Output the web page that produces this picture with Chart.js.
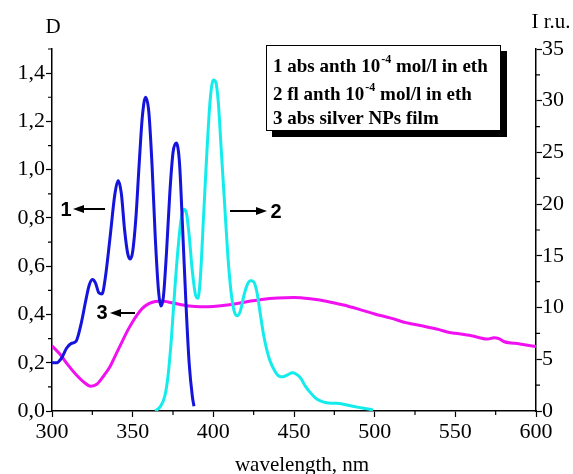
<!DOCTYPE html>
<html>
<head>
<meta charset="utf-8">
<script src="https://cdn.jsdelivr.net/npm/chart.js@4.4.0/dist/chart.umd.min.js"></script>
<style>
  html, body { margin: 0; padding: 0; background: #fff; }
</style>
</head>
<body>
<canvas id="chart" width="573" height="474"></canvas>
<script>
// curve 1: absorption of anthracene (left axis, D)
const absWave = [300, 303, 306, 309, 312, 315, 318, 321, 323, 325, 327, 329, 331, 333, 336, 339, 341, 343, 345, 347, 348.5, 350, 352, 354, 356, 358, 360, 362, 364, 366, 367.5, 369, 371, 373, 375, 377, 379, 381, 383, 385, 387, 388];
const absD = [0.20, 0.20, 0.22, 0.26, 0.28, 0.29, 0.36, 0.46, 0.52, 0.545, 0.53, 0.49, 0.485, 0.55, 0.72, 0.90, 0.955, 0.90, 0.75, 0.65, 0.63, 0.66, 0.80, 1.02, 1.22, 1.30, 1.24, 1.02, 0.72, 0.50, 0.435, 0.47, 0.66, 0.90, 1.07, 1.11, 1.03, 0.75, 0.45, 0.20, 0.06, 0.02];

// curve 2: fluorescence of anthracene (right axis, I r.u.)
const flWave = [364, 367, 370, 372, 374, 376, 378, 380, 382, 383.5, 385, 387, 389, 390.5, 392, 394, 396, 398, 400, 401.5, 403, 405, 407, 409, 411, 413, 415, 417, 419, 421, 423, 425, 427, 429, 431, 433, 435, 438, 441, 443, 446, 449, 451, 454, 457, 460, 463, 466, 470, 475, 480, 485, 490, 495, 499];
const flI = [0, 0.4, 1.5, 3.5, 7, 11.5, 15.5, 18.5, 19.5, 19.0, 17, 13.5, 11.2, 10.9, 13, 19, 25, 30, 32, 31.8, 30, 25, 20, 15, 11.5, 9.6, 9.2, 9.8, 11.2, 12.2, 12.6, 12.5, 11.5, 9.5, 7.5, 6, 4.9, 3.9, 3.35, 3.3, 3.5, 3.7, 3.6, 3.2, 2.4, 1.8, 1.3, 1.0, 0.8, 0.75, 0.68, 0.5, 0.35, 0.22, 0.1];

// curve 3: absorption of silver NPs film (left axis, D)
const agWave = [300, 305, 310, 315, 320, 324, 328, 332, 336, 340, 344, 347, 350, 353, 356, 360, 364, 368, 372, 378, 385, 392, 400, 410, 420, 430, 440, 450, 460, 470, 480, 490, 500, 510, 520, 530, 540, 545, 550, 560, 570, 574, 577, 580, 590, 600];
const agD = [0.27, 0.235, 0.19, 0.15, 0.118, 0.103, 0.112, 0.145, 0.184, 0.24, 0.295, 0.335, 0.37, 0.40, 0.425, 0.445, 0.454, 0.456, 0.452, 0.443, 0.435, 0.432, 0.433, 0.44, 0.452, 0.462, 0.468, 0.47, 0.465, 0.455, 0.44, 0.422, 0.402, 0.385, 0.365, 0.352, 0.337, 0.327, 0.322, 0.312, 0.298, 0.304, 0.30, 0.288, 0.278, 0.267];

const xTicks = [300, 350, 400, 450, 500, 550, 600];
const xMinor = [325, 375, 425, 475, 525, 575];
const dTicks = [0, 0.2, 0.4, 0.6, 0.8, 1.0, 1.2, 1.4];
const dMinor = [0.1, 0.3, 0.5, 0.7, 0.9, 1.1, 1.3, 1.5];
const iTicks = [0, 5, 10, 15, 20, 25, 30, 35];
const iMinor = [2.5, 7.5, 12.5, 17.5, 22.5, 27.5, 32.5];

const legendLines = [
  ["1 abs anth 10", "-4", " mol/l in eth"],
  ["2 fl anth 10", "-4", " mol/l in eth"],
  ["3 abs silver NPs film"]
];

const serif = '"Liberation Serif", "Times New Roman", serif';
const sans = '"Liberation Sans", Arial, sans-serif';

function pts(xs, ys) {
  return xs.map((x, i) => ({ x: x, y: ys[i] }));
}

function arrow(c, x1, y, x2) {
  // line from x1 to x2 with head at x2
  const dir = x2 > x1 ? 1 : -1;
  c.beginPath();
  c.moveTo(x1, y);
  c.lineTo(x2 - dir * 6, y);
  c.lineWidth = 2;
  c.strokeStyle = "#000";
  c.stroke();
  c.beginPath();
  c.moveTo(x2, y);
  c.lineTo(x2 - dir * 11, y - 4);
  c.lineTo(x2 - dir * 11, y + 4);
  c.closePath();
  c.fillStyle = "#000";
  c.fill();
}

const decor = {
  id: "decor",
  afterDraw(chart) {
    const c = chart.ctx;
    const xs = chart.scales.x, yl = chart.scales.y, yr = chart.scales.y2;
    c.save();
    // minor ticks
    c.strokeStyle = "#000";
    c.lineWidth = 1.2;
    c.beginPath();
    xMinor.forEach(v => {
      const p = xs.getPixelForValue(v);
      c.moveTo(p, xs.top); c.lineTo(p, xs.top + 4);
    });
    dMinor.forEach(v => {
      const p = yl.getPixelForValue(v);
      c.moveTo(yl.right, p); c.lineTo(yl.right - 4, p);
    });
    iMinor.forEach(v => {
      const p = yr.getPixelForValue(v);
      c.moveTo(yr.left, p); c.lineTo(yr.left + 4, p);
    });
    c.stroke();

    // axis titles
    c.fillStyle = "#000";
    c.font = "21px " + serif;
    c.textAlign = "center";
    c.textBaseline = "alphabetic";
    c.fillText("D", 53, 33);
    c.fillText("I r.u.", 551, 28);
    c.fillText("wavelength, nm", 302, 471);

    // legend box with shadow
    c.fillStyle = "#000";
    c.fillRect(272, 51, 235, 86);
    c.fillStyle = "#fff";
    c.fillRect(266.5, 45.5, 234, 85);
    c.lineWidth = 1;
    c.strokeRect(266.5, 45.5, 234, 85);

    const base = [72, 100, 124];
    c.textAlign = "left";
    c.fillStyle = "#000";
    legendLines.forEach((parts, i) => {
      let x = 273;
      parts.forEach((t, j) => {
        if (j === 1) {
          c.font = "bold 12px " + serif;
          c.fillText(t, x + 1, base[i] - 9);
        } else {
          c.font = "bold 19px " + serif;
          c.fillText(t, x, base[i]);
        }
        x += c.measureText(t).width + (j === 1 ? 1 : 0);
      });
    });

    // curve labels with arrows
    c.font = "bold 20px " + sans;
    c.textAlign = "center";
    c.textBaseline = "middle";
    c.fillText("1", 66, 210);
    arrow(c, 105, 209, 73);
    c.fillText("2", 276, 212);
    arrow(c, 230, 211, 267);
    c.fillText("3", 102, 313);
    arrow(c, 135, 313, 110);
    c.restore();
  }
};

const tickFont = { family: serif, size: 22 };

const chart = new Chart(document.getElementById("chart").getContext("2d"), {
  type: "line",
  data: {
    datasets: [
      {
        label: "1 abs anth",
        data: pts(absWave, absD),
        yAxisID: "y",
        borderColor: "#1414dc",
        borderWidth: 3,
        pointRadius: 0,
        cubicInterpolationMode: "monotone",
        order: 0
      },
      {
        label: "2 fl anth",
        data: pts(flWave, flI),
        yAxisID: "y2",
        borderColor: "#14ecec",
        borderWidth: 3,
        pointRadius: 0,
        cubicInterpolationMode: "monotone",
        order: 1
      },
      {
        label: "3 abs silver NPs film",
        data: pts(agWave, agD),
        yAxisID: "y",
        borderColor: "#f010f0",
        borderWidth: 3,
        pointRadius: 0,
        cubicInterpolationMode: "monotone",
        order: 2
      }
    ]
  },
  options: {
    responsive: false,
    animation: false,
    layout: { padding: { top: 49, left: 0, right: 0, bottom: 0 } },
    plugins: { legend: { display: false }, tooltip: { enabled: false } },
    scales: {
      x: {
        type: "linear",
        min: 300,
        max: 600,
        afterBuildTicks: s => { s.ticks = xTicks.map(v => ({ value: v })); },
        afterFit: s => { s.height = 63; },
        ticks: { font: tickFont, color: "#000", padding: 2, maxRotation: 0, autoSkip: false },
        grid: { drawOnChartArea: false, drawTicks: true, tickLength: 6, tickColor: "#000", tickWidth: 1.2 },
        border: { color: "#000", width: 1.5 }
      },
      y: {
        position: "left",
        min: 0,
        max: 1.5,
        afterBuildTicks: s => { s.ticks = dTicks.map(v => ({ value: v })); },
        afterFit: s => { s.width = 52; },
        ticks: {
          font: tickFont, color: "#000", padding: 1,
          callback: v => v.toFixed(1).replace(".", ",")
        },
        grid: { drawOnChartArea: false, drawTicks: true, tickLength: 6, tickColor: "#000", tickWidth: 1.2 },
        border: { color: "#000", width: 1.5 }
      },
      y2: {
        position: "right",
        min: 0,
        max: 35,
        afterBuildTicks: s => { s.ticks = iTicks.map(v => ({ value: v })); },
        afterFit: s => { s.width = 37; },
        ticks: { font: tickFont, color: "#000", padding: 0 },
        grid: { drawOnChartArea: false, drawTicks: true, tickLength: 6, tickColor: "#000", tickWidth: 1.2 },
        border: { color: "#000", width: 1.5 }
      }
    }
  },
  plugins: [decor]
});
</script>
</body>
</html>
